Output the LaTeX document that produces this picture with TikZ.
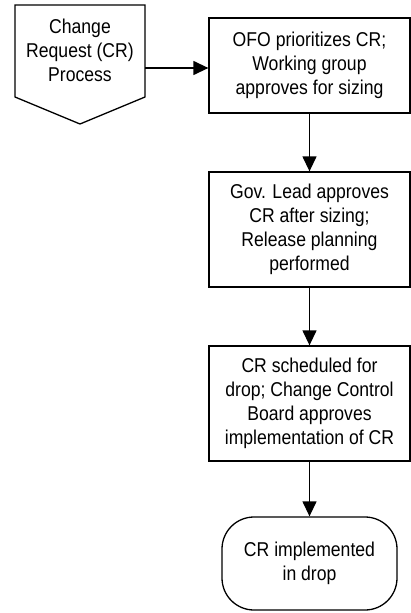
\documentclass[tikz,border=0pt]{standalone}
\usepackage{fontspec}
\setmainfont{Liberation Sans}[FakeStretch=0.88]
\usetikzlibrary{arrows.meta}
\begin{document}
\begin{tikzpicture}[x=1pt,y=-1pt,
  every node/.style={font=\fontsize{20}{24}\selectfont, align=center},
  procbox/.style={draw, line width=1.3pt, minimum width=201pt, inner sep=0pt},
  flow/.style={line width=1.3pt, -{Triangle[length=15pt,width=14pt]}}]
\useasboundingbox (0,0) rectangle (410,613);
% off-page connector
\draw[line width=1.3pt] (15,5) -- (145,5) -- (145,97) -- (80,124) -- (15,97) -- cycle;
\node (start) at (80,50) {Change\\Request (CR)\\Process};
\coordinate (startR) at (145,68);
% boxes
\node[procbox, minimum height=95pt] (b1) at (309.5,65.5) {OFO prioritizes CR;\\Working group\\approves for sizing};
\node[procbox, minimum height=115pt] (b2) at (309.5,229.5) {Gov. Lead approves\\CR after sizing;\\Release planning\\performed};
\node[procbox, minimum height=115pt] (b3) at (309.5,403.5) {CR scheduled for\\drop; Change Control\\Board approves\\implementation of CR};
\node[draw, line width=1.3pt, rounded corners=32pt, minimum width=175pt, minimum height=93pt] (end) at (309.5,563.5) {CR implemented\\in drop};
\draw[flow] (startR) -- (b1.west |- startR);
\draw[flow] (b1) -- (b2);
\draw[flow] (b2) -- (b3);
\draw[flow] (b3) -- (end);
\end{tikzpicture}
\end{document}
